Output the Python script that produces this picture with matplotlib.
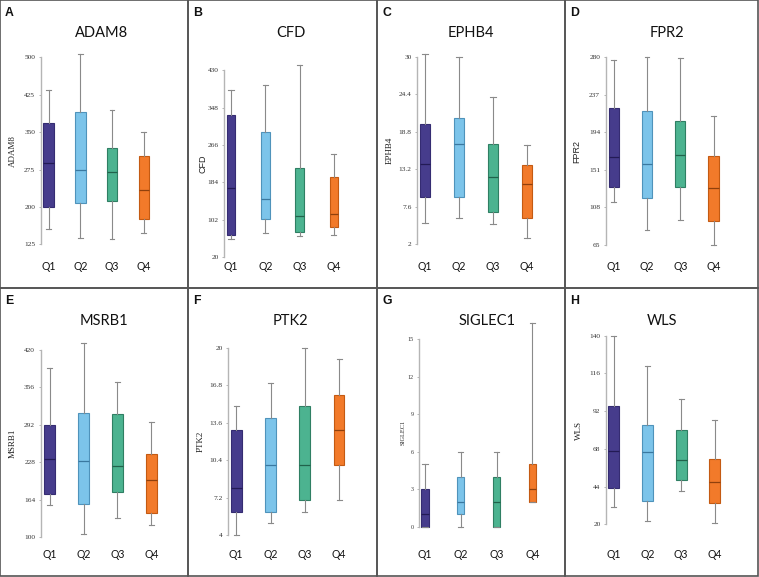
import matplotlib
matplotlib.use('Agg')
import matplotlib.pyplot as plt
import matplotlib.transforms as mtransforms
from matplotlib.patches import Rectangle

# box stats per quartile group: [whisker low, q1, median, q3, whisker high]
adam8 = [[156, 200, 288, 368, 434], [137, 207, 275, 391, 507],
         [135, 211, 270, 319, 394], [148, 176, 233, 302, 351]]
cfd = [[59, 68, 171, 331, 387], [72, 103, 147, 295, 397],
       [66, 74, 109, 215, 441], [69, 85, 115, 195, 247]]
ephb4 = [[5.15, 9.0, 14.0, 20.0, 30.5], [6.0, 9.0, 17.0, 20.9, 30.0],
         [5.0, 6.9, 12.0, 17.0, 24.0], [3.0, 5.9, 11.0, 13.9, 16.9]]
fpr2 = [[114, 131, 166, 222, 277], [82, 119, 158, 218, 280],
        [94, 131, 168, 207, 279], [65, 93, 130, 167, 213]]
msrb1 = [[154, 174, 233, 292, 389], [105, 156, 229, 311, 431],
         [133, 177, 222, 310, 364], [121, 141, 197, 242, 296]]
ptk2 = [[4.0, 6.0, 8.0, 13.0, 15.05], [5.0, 6.0, 10.0, 14.0, 17.0],
        [6.0, 7.0, 10.0, 15.0, 20.0], [7.0, 10.0, 13.0, 16.0, 19.0]]
siglec1 = [[0, 0, 1, 3, 5], [0, 1, 2, 4, 6],
           [0, 0, 2, 4, 6], [2, 2, 3, 5, 16.3]]
wls = [[31, 43, 66.6, 95, 140], [22, 34.6, 65.8, 83.4, 121],
       [41, 48.2, 60.7, 79.8, 99.5], [20.6, 33.8, 46.7, 61.3, 86.2]]

genes = ['ADAM8', 'CFD', 'EPHB4', 'FPR2', 'MSRB1', 'PTK2', 'SIGLEC1', 'WLS']
letters = ['A', 'B', 'C', 'D', 'E', 'F', 'G', 'H']
groups = ['Q1', 'Q2', 'Q3', 'Q4']
yticks = [[125, 200, 275, 350, 425, 500],
          [20, 102, 184, 266, 348, 430],
          [2, 7.6, 13.2, 18.8, 24.4, 30],
          [65, 108, 151, 194, 237, 280],
          [100, 164, 228, 292, 356, 420],
          [4, 7.2, 10.4, 13.6, 16.8, 20],
          [0, 3, 6, 9, 12, 15],
          [20, 44, 68, 92, 116, 140]]
alldata = [adam8, cfd, ephb4, fpr2, msrb1, ptk2, siglec1, wls]

fills = ['#463c8c', '#7cc4ea', '#4cb390', '#f27a2a']
edges = ['#352c72', '#4f93bb', '#2f7f63', '#c45a12']
meds = ['#231b55', '#3a78a0', '#21624b', '#8f400c']

W, H = 759, 577
fig = plt.figure(figsize=(W / 100, H / 100), dpi=100)

# panel frames (pixels)
px0 = [0, 188, 377, 565]
pw = [188, 189, 188, 193]
py0 = [0, 288]
# axis spine x (relative to panel), top / bottom of axis (absolute px)
spine_x = [40.7, 36, 40, 40.7, 40.7, 40, 42.3, 41]
ax_top = [57.3, 70.3, 57, 57.3, 349.7, 347.7, 339, 335.7]
ax_bot = [244.3, 257, 244.3, 245, 537, 535, 526.7, 524.3]
first_off = [8, 7, 8, 8, 8.8, 8.2, 5.7, 7.5]      # px from spine to Q1
step = [31.7, 34.3, 34, 33.3, 34, 34.3, 35.8, 33.8]  # px between groups
lab_off = [24, 16, 23, 24, 24, 23, 14, 23]
title_x = [102, 103, 94, 102, 104, 102, 110, 97]
box_w = [0.33, 0.25, 0.31, 0.31, 0.32, 0.31, 0.2, 0.32]
ylab_family = ['Liberation Serif', 'Liberation Sans', 'Liberation Serif', 'Liberation Sans',
               'Liberation Serif', 'Liberation Serif', 'Liberation Serif', 'Liberation Serif']

for i in range(8):
    col = i % 4
    row = i // 4
    x0 = px0[col]
    y0 = py0[row]
    fig.add_artist(Rectangle((x0 / W, 1 - (y0 + 288) / H), pw[col] / W, 288 / H,
                             transform=fig.transFigure, fill=False,
                             ec='#555555', lw=1.2))

    xmin = 1 - first_off[i] / step[i]
    xmax = 4.7
    ax_w = (xmax - xmin) * step[i]
    left = (x0 + spine_x[i]) / W
    bottom = 1 - ax_bot[i] / H
    ax = fig.add_axes([left, bottom, ax_w / W, (ax_bot[i] - ax_top[i]) / H])

    stats = []
    for d in alldata[i]:
        stats.append({'whislo': d[0], 'q1': d[1], 'med': d[2], 'q3': d[3],
                      'whishi': d[4], 'fliers': []})
    pos = [1, 2, 3, 4]
    bp = ax.bxp(stats, positions=pos, widths=box_w[i], patch_artist=True,
                showfliers=False, capwidths=0.15,
                whiskerprops=dict(color='#8a8a8a', lw=0.8),
                capprops=dict(color='#8a8a8a', lw=0.8))
    for j in range(4):
        bp['boxes'][j].set_facecolor(fills[j])
        bp['boxes'][j].set_edgecolor(edges[j])
        bp['boxes'][j].set_linewidth(0.8)
        bp['medians'][j].set_color(meds[j])
        bp['medians'][j].set_linewidth(0.9)
    for art in bp['boxes'] + bp['medians'] + bp['whiskers'] + bp['caps']:
        art.set_clip_on(False)

    t = yticks[i]
    ax.set_ylim(t[0], t[-1])
    ax.set_xlim(xmin, xmax)
    ax.set_yticks(t)
    ax.set_yticklabels(['%g' % v for v in t], family='Liberation Serif',
                       fontsize=4.3 if i == 6 else 5.3, color='#333333')
    ax.tick_params(axis='y', length=1.5, width=0.6, color='#aaaaaa', pad=2.5)
    ax.set_xticks([])
    for s in ['top', 'right', 'bottom']:
        ax.spines[s].set_visible(False)
    ax.spines['left'].set_color('#b5b5b5')
    ax.spines['left'].set_linewidth(1.0)
    ax.patch.set_alpha(0)

    ax.set_ylabel(genes[i], family=ylab_family[i],
                  fontsize=4.5 if i == 6 else 6.5, color='#222222')
    ax.yaxis.set_label_coords(-lab_off[i] / ax_w, 0.5)

    tr = mtransforms.blended_transform_factory(ax.transData, fig.transFigure)
    for j in range(4):
        ax.text(pos[j], 1 - (y0 + 266.5) / H, groups[j], transform=tr,
                ha='center', va='center', fontsize=7.6, family='Lato',
                color='#111111')

    fig.text((x0 + title_x[i]) / W, 1 - (y0 + 33) / H, genes[i],
             ha='center', va='center', fontsize=10.5, family='Lato', color='#111111')
    fig.text((x0 + 5) / W, 1 - (y0 + 6.5) / H, letters[i], ha='left', va='top',
             fontsize=8.8, fontweight='bold', family='Liberation Sans', color='#111111')

fig.savefig('out.png', dpi=100)
